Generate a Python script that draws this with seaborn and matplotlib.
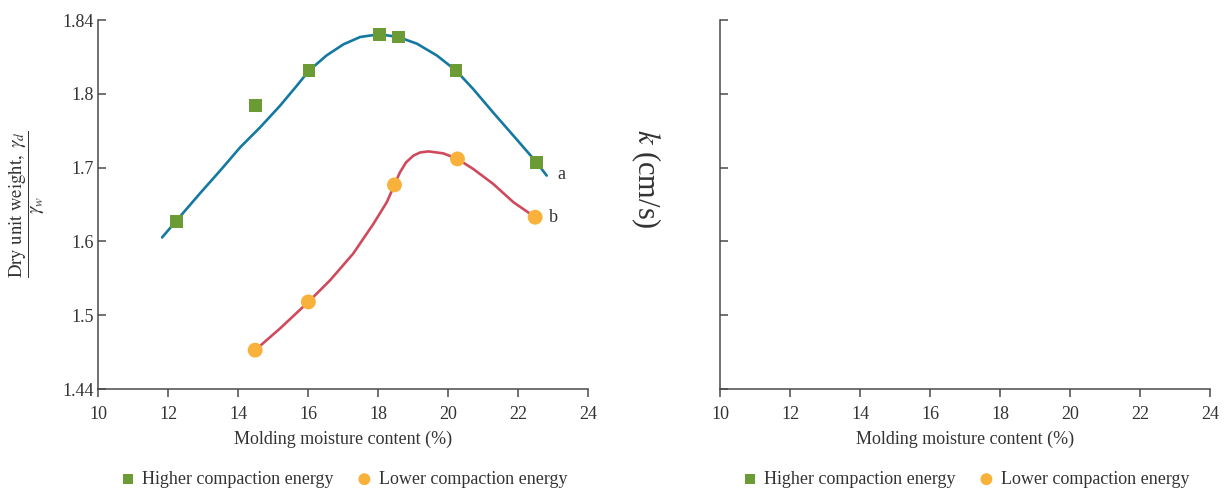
import numpy as np
import pandas as pd
import matplotlib
matplotlib.use("Agg")
import matplotlib.pyplot as plt
import seaborn as sns

# ── data ────────────────────────────────────────────────────────────────────
y_tick_vals = [1.44, 1.5, 1.6, 1.7, 1.8, 1.84]   # equally spaced on the page
x_ticks = [10, 12, 14, 16, 18, 20, 22, 24]

# measured points
moist_hi = [12.25, 14.5, 16.03, 18.04, 18.58, 20.23, 22.53]
gamma_hi = [1.627, 1.784, 1.8126, 1.8323, 1.8308, 1.8126, 1.7072]
moist_lo = [14.49, 16.01, 18.47, 20.27, 22.49]
gamma_lo = [1.4716, 1.518, 1.6766, 1.7118, 1.6328]

# traced fitted curves
curve_a_x = [11.83, 12.91, 13.49, 14.06, 14.63, 15.2, 15.68, 16.03, 16.53, 17.01,
             17.49, 18.04, 18.58, 19.11, 19.68, 20.23, 20.72, 21.29, 21.87, 22.53, 22.82]
curve_a_y = [1.6054, 1.6649, 1.6959, 1.7274, 1.7545, 1.7838, 1.8044, 1.8126, 1.8208,
             1.8268, 1.8308, 1.8323, 1.8308, 1.8272, 1.8208, 1.8126, 1.8026, 1.7747,
             1.7432, 1.7072, 1.6892]
curve_b_x = [14.49, 15.2, 16.01, 16.63, 17.29, 17.87, 18.25, 18.47, 18.62, 18.8, 19.01,
             19.2, 19.44, 19.87, 20.27, 20.72, 21.29, 21.87, 22.49]
curve_b_y = [1.4716, 1.4892, 1.518, 1.5473, 1.5834, 1.6239, 1.6531, 1.6766, 1.693, 1.707,
             1.7162, 1.7205, 1.722, 1.7193, 1.7118, 1.6982, 1.678, 1.6531, 1.6328]

hi_label = "Higher compaction energy"
lo_label = "Lower compaction energy"

c_blue, c_green = "#1479a0", "#6a9b34"
c_red, c_orange = "#cf4a5c", "#f8b23c"

# ── style ────────────────────────────────────────────────────────────────────
sns.set_theme(style="ticks")
plt.rcParams["font.family"] = ["Liberation Serif", "DejaVu Serif"]
plt.rcParams["mathtext.fontset"] = "stix"
plt.rcParams.update({"axes.edgecolor": "#4a4a4a", "axes.linewidth": 1.1,
                     "xtick.color": "#4a4a4a", "ytick.color": "#4a4a4a",
                     "xtick.labelcolor": "#333333", "ytick.labelcolor": "#333333",
                     "axes.labelcolor": "#333333", "text.color": "#333333"})

fig = plt.figure(figsize=(12.25, 4.91), dpi=100)
ax1 = fig.add_axes([0.080, 0.2077, 0.400, 0.7515])
ax2 = fig.add_axes([0.5878, 0.2077, 0.400, 0.7515])

# piecewise scale so the odd tick values sit equally spaced
pos = np.arange(len(y_tick_vals))
fwd = lambda v: np.interp(v, y_tick_vals, pos)
inv = lambda p: np.interp(p, pos, y_tick_vals)
ax1.set_yscale("function", functions=(fwd, inv))

# ── left panel ───────────────────────────────────────────────────────────────
df_a = pd.DataFrame({"w": curve_a_x, "g": curve_a_y})
df_b = pd.DataFrame({"w": curve_b_x, "g": curve_b_y})
sns.lineplot(data=df_a, x="w", y="g", sort=False, estimator=None,
             color=c_blue, linewidth=1.9, ax=ax1)
sns.lineplot(data=df_b, x="w", y="g", sort=False, estimator=None,
             color=c_red, linewidth=1.9, ax=ax1)
for ln in ax1.lines:
    ln.set_solid_joinstyle("round")
sns.scatterplot(x=moist_hi, y=gamma_hi, marker="s", s=85, color=c_green,
                edgecolor="none", label=hi_label, ax=ax1, zorder=3)
sns.scatterplot(x=moist_lo, y=gamma_lo, marker="o", s=115, color=c_orange,
                edgecolor="none", label=lo_label, ax=ax1, zorder=3)

ax1.text(23.12, 1.6905, "a", fontsize=13, va="center", ha="left")
ax1.text(22.88, 1.632, "b", fontsize=13, va="center", ha="left")

ax1.set_xlim(10, 24)
ax1.set_ylim(1.44, 1.84)
ax1.set_yticks(y_tick_vals)
ax1.set_yticklabels([f"{v:g}" for v in y_tick_vals])
ax1.yaxis.set_minor_locator(matplotlib.ticker.NullLocator())
ax1.set_ylabel(r"$\dfrac{\mathrm{Dry\ unit\ weight,}\ \gamma_d}{\gamma_w}$", fontsize=13.5)
ax1.yaxis.set_label_coords(-0.105, 0.5)

handles, labels = ax1.get_legend_handles_labels()

# ── right panel (empty) ──────────────────────────────────────────────────────
ax2.set_xlim(10, 24)
ax2.set_ylim(0, 5)
ax2.set_yticks(range(6))
ax2.set_yticklabels([])
ax2.set_ylabel(r"$k$ (cm/s)", fontsize=22, rotation=270, labelpad=0)
ax2.yaxis.set_label_coords(-0.185, 0.57)

for ax in (ax1, ax2):
    ax.set_xticks(x_ticks)
    ax.set_xlabel("Molding moisture content (%)", fontsize=13, labelpad=6)
    ax.tick_params(axis="x", direction="out", length=6, width=1.1, labelsize=13, pad=6)
    ax.tick_params(axis="y", direction="in", length=6, width=1.1, labelsize=13, pad=3)
    sns.despine(ax=ax)
    ax.legend(handles, labels, loc="center", bbox_to_anchor=(0.5, -0.245),
              ncol=2, frameon=False, fontsize=13, handletextpad=0.3,
              columnspacing=1.2, markerscale=0.8, handlelength=1.0)

fig.savefig("out.png", dpi=100)
